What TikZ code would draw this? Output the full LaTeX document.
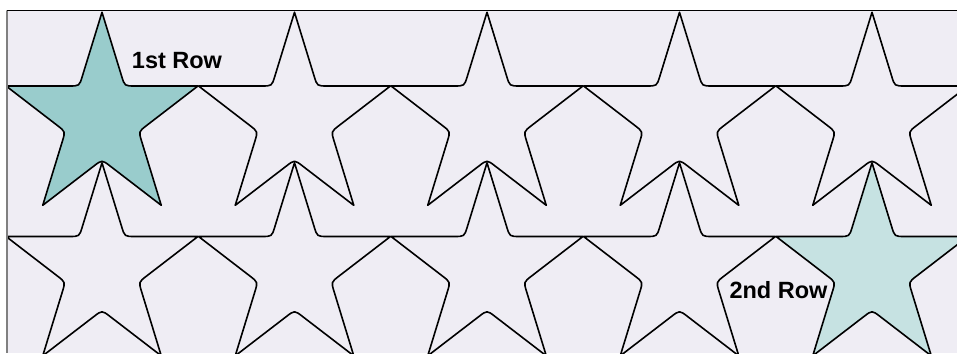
\documentclass[tikz,border=0pt]{standalone}
\usepackage{fontspec}
\setmainfont{Liberation Sans}
\usetikzlibrary{calc}
\definecolor{paneback}{HTML}{EFEDF4}
\definecolor{rowteal}{HTML}{99CCCC}
\definecolor{rowpale}{HTML}{C6E2E2}
\tikzset{
  star-1-0/.style={fill=rowteal},
  star-2-4/.style={fill=rowpale},
  rowlabel/.style={font=\fontsize{23.5}{28}\selectfont\bfseries, inner sep=0pt}
}
\begin{document}
\begin{tikzpicture}[x=1pt, y=1pt, line join=round, line cap=round]
  \useasboundingbox (0,0) rectangle (957,353);
  \fill[paneback] (7,0) rectangle (957,342);
  \begin{scope}
    \clip (7,0) rectangle (957,342);
    % two rows of five stars, inner corners rounded
    \foreach \r/\cy in {1/234, 2/83.5}
    \foreach \c in {0,...,4} {
      \begin{scope}[shift={(102+192.5*\c,\cy)}, xscale=0.945]
        \foreach \k in {0,...,4} {
          \coordinate (o\k) at (90+72*\k:106.7);
          \coordinate (i\k) at (126+72*\k:40.8);
        }
      \end{scope}
      \draw[line width=1.6pt, star-\r-\c/.try]
        (o0) \foreach \k [evaluate=\k as \n using {int(\k+1)}] in {0,...,3} {
          -- ($(i\k)!10pt!(o\k)$) .. controls (i\k) .. ($(i\k)!10pt!(o\n)$) -- (o\n)
        }
        -- ($(i4)!10pt!(o4)$) .. controls (i4) .. ($(i4)!10pt!(o0)$) -- cycle;
    }
  \end{scope}
  \draw[line width=1pt] (7,342) -- (957,342);
  \draw[gray, line width=2.5pt, line cap=butt] (7,342) -- (7,0);
  \node[rowlabel] (first) at (177,292) {1st Row};
  \node[rowlabel] (second) at (778.5,63) {2nd Row};
\end{tikzpicture}
\end{document}
